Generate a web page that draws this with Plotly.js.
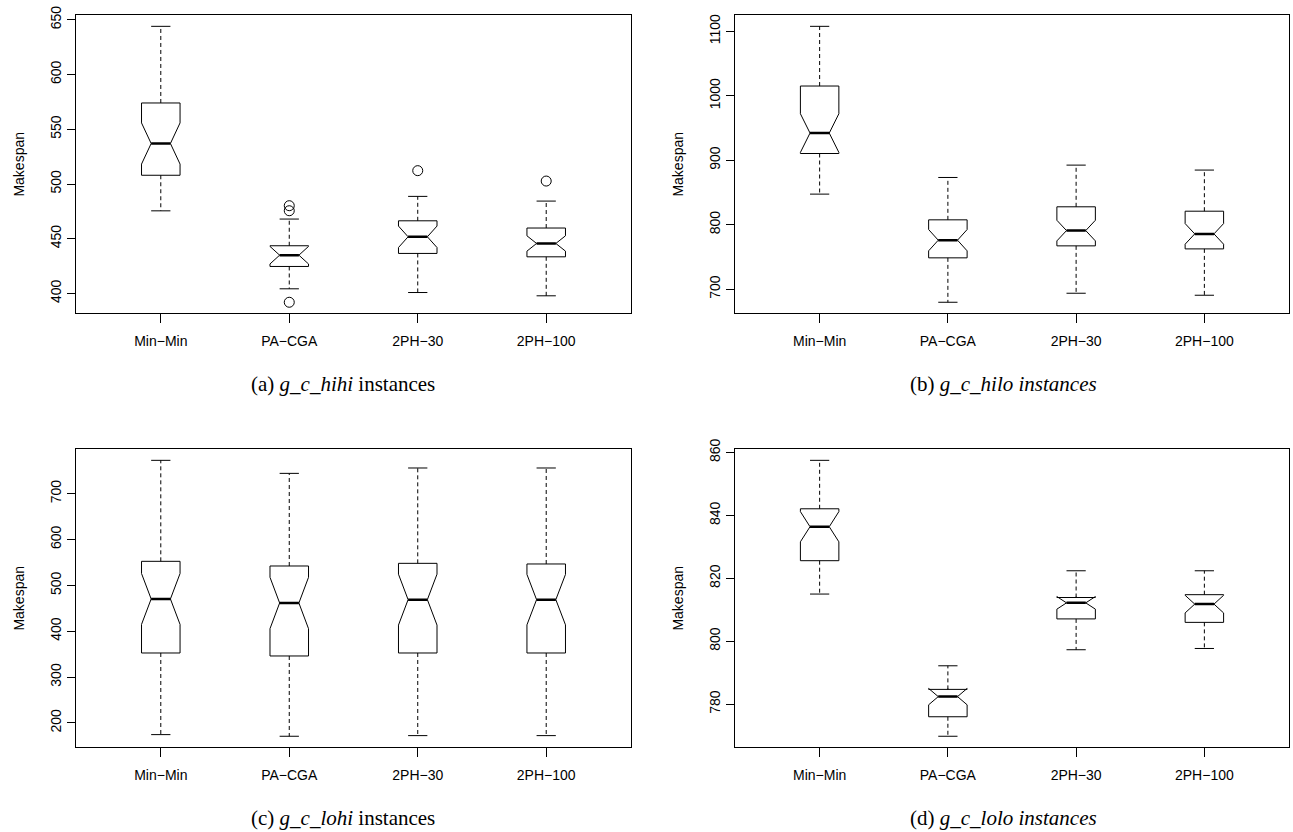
<!DOCTYPE html>
<html>
<head>
<meta charset="utf-8">
<script src="https://cdn.plot.ly/plotly-3.0.1.min.js"></script>
<style>
  html, body { margin: 0; padding: 0; background: #fff; }
  #chart { width: 1293px; height: 832px; }
</style>
</head>
<body>
<div id="chart"></div>
<script>
// ---------- data ----------
const categories = ["Min−Min", "PA−CGA", "2PH−30", "2PH−100"];

// (a) g_c_hihi
const hihiLower  = [475.5, 404.3, 400.9, 397.9];
const hihiQ1     = [508.0, 424.7, 436.6, 433.5];
const hihiMedian = [537.0, 435.0, 451.8, 445.7];
const hihiQ3     = [574.0, 443.6, 466.4, 459.8];
const hihiUpper  = [644.0, 468.0, 488.7, 484.4];
const hihiNotch  = [18.8, 8.0, 9.8, 7.0];
const hihiOutCat = ["PA−CGA", "PA−CGA", "PA−CGA", "2PH−30", "2PH−100"];
const hihiOutVal = [392.0, 475.6, 480.2, 512.2, 502.7];

// (b) g_c_hilo
const hiloLower  = [847.5, 679.7, 693.7, 690.6];
const hiloQ1     = [910.5, 748.6, 767.2, 762.5];
const hiloMedian = [942.2, 776.0, 790.9, 785.8];
const hiloQ3     = [1015.2, 807.6, 827.8, 821.0];
const hiloUpper  = [1107.8, 873.3, 892.5, 884.8];
const hiloNotch  = [30.0, 16.5, 16.0, 16.0];

// (c) g_c_lohi
const lohiLower  = [174.6, 171.0, 172.4, 172.4];
const lohiQ1     = [352.6, 346.1, 352.6, 352.6];
const lohiMedian = [470.4, 461.6, 468.9, 468.9];
const lohiQ3     = [552.5, 542.3, 548.1, 546.7];
const lohiUpper  = [772.7, 744.3, 756.0, 756.0];
const lohiNotch  = [55.5, 56.0, 55.5, 55.0];

// (d) g_c_lolo
const loloLower  = [815.0, 769.8, 797.3, 797.7];
const loloQ1     = [825.6, 776.0, 807.1, 806.0];
const loloMedian = [836.4, 782.4, 812.2, 811.8];
const loloQ3     = [842.1, 784.7, 813.9, 814.8];
const loloUpper  = [857.5, 792.2, 822.4, 822.4];
const loloNotch  = [4.8, 2.6, 2.0, 2.8];

const captions = [
  "(a) <i>g_c_hihi</i> instances",
  "(b) <i>g_c_hilo instances</i>",
  "(c) <i>g_c_lohi</i> instances",
  "(d) <i>g_c_lolo instances</i>"
];
const yTitle = "Makespan";

// ---------- build ----------
const panels = [
  {lo: hihiLower, q1: hihiQ1, med: hihiMedian, q3: hihiQ3, hi: hihiUpper, notch: hihiNotch, outCat: hihiOutCat, outVal: hihiOutVal, dtick: 50},
  {lo: hiloLower, q1: hiloQ1, med: hiloMedian, q3: hiloQ3, hi: hiloUpper, notch: hiloNotch, outCat: [], outVal: [], dtick: 100},
  {lo: lohiLower, q1: lohiQ1, med: lohiMedian, q3: lohiQ3, hi: lohiUpper, notch: lohiNotch, outCat: [], outVal: [], dtick: 100},
  {lo: loloLower, q1: loloQ1, med: loloMedian, q3: loloQ3, hi: loloUpper, notch: loloNotch, outCat: [], outVal: [], dtick: 20}
];

const BOXW = 0.3;
const pos = categories.map((c, i) => i + 1);
const W = 1293, H = 832;
const xDomains = [[76 / W, 631 / W], [735 / W, 1289 / W], [76 / W, 631 / W], [735 / W, 1289 / W]];
const topY = [(H - 313.3) / H, (H - 15.3) / H];
const botY = [(H - 747.3) / H, (H - 449.3) / H];
const yDomains = [topY, topY, botY, botY];

const traces = [];
const layout = {
  width: W, height: H,
  margin: {l: 0, r: 0, t: 0, b: 0},
  paper_bgcolor: "#ffffff",
  plot_bgcolor: "#ffffff",
  showlegend: false,
  font: {family: "Liberation Sans, Arial, sans-serif", size: 14, color: "#000"},
  annotations: []
};

panels.forEach((p, k) => {
  const sfx = k === 0 ? "" : String(k + 1);
  const xa = "x" + sfx, ya = "y" + sfx;

  // box with notch (no whiskers; those are drawn dashed below)
  traces.push({
    type: "box", xaxis: xa, yaxis: ya,
    x: pos, q1: p.q1, median: p.med, q3: p.q3,
    lowerfence: p.q1, upperfence: p.q3,
    notchspan: p.notch, notched: true, notchwidth: 0.25,
    width: BOXW, whiskerwidth: 0,
    boxpoints: false,
    fillcolor: "rgba(255,255,255,0)",
    line: {color: "#000", width: 1},
    hoverinfo: "skip"
  });

  // dashed whiskers
  const wx = [], wy = [];
  pos.forEach((x, i) => {
    wx.push(x, x, null, x, x, null);
    wy.push(p.q3[i], p.hi[i], null, p.q1[i], p.lo[i], null);
  });
  traces.push({
    type: "scatter", mode: "lines", xaxis: xa, yaxis: ya,
    x: wx, y: wy, line: {color: "#000", width: 1, dash: "4px,3px"},
    hoverinfo: "skip"
  });

  // staples
  const sx = [], sy = [];
  pos.forEach((x, i) => {
    sx.push(x - BOXW / 4, x + BOXW / 4, null, x - BOXW / 4, x + BOXW / 4, null);
    sy.push(p.hi[i], p.hi[i], null, p.lo[i], p.lo[i], null);
  });
  traces.push({
    type: "scatter", mode: "lines", xaxis: xa, yaxis: ya,
    x: sx, y: sy, line: {color: "#000", width: 1},
    hoverinfo: "skip"
  });

  // thick medians
  const mx = [], my = [];
  pos.forEach((x, i) => {
    mx.push(x - BOXW / 4, x + BOXW / 4, null);
    my.push(p.med[i], p.med[i], null);
  });
  traces.push({
    type: "scatter", mode: "lines", xaxis: xa, yaxis: ya,
    x: mx, y: my, line: {color: "#000", width: 2.5},
    hoverinfo: "skip"
  });

  // outliers
  if (p.outVal.length) {
    traces.push({
      type: "scatter", mode: "markers", xaxis: xa, yaxis: ya,
      x: p.outCat.map(c => categories.indexOf(c) + 1), y: p.outVal,
      marker: {symbol: "circle-open", size: 10, color: "#000", line: {width: 1, color: "#000"}},
      hoverinfo: "skip"
    });
  }

  // y range like R (4% padding)
  const all = p.lo.concat(p.hi, p.outVal);
  const mn = Math.min(...all), mxv = Math.max(...all);
  const pad = (mxv - mn) * 0.04;

  layout["xaxis" + sfx] = {
    domain: xDomains[k], anchor: ya,
    range: [0.34, 4.66],
    tickmode: "array", tickvals: pos, ticktext: categories,
    showgrid: false, zeroline: false,
    showline: true, mirror: true, linecolor: "#000", linewidth: 1,
    ticks: "outside", ticklen: 9, tickwidth: 1, tickcolor: "#000",
    tickfont: {size: 14, family: "Liberation Sans, Arial, sans-serif"},
    ticklabelstandoff: 6,
    fixedrange: true
  };
  layout["yaxis" + sfx] = {
    domain: yDomains[k], anchor: xa,
    range: [mn - pad, mxv + pad],
    dtick: p.dtick,
    showgrid: false, zeroline: false,
    showline: true, mirror: true, linecolor: "#000", linewidth: 1,
    ticks: "outside", ticklen: 8, tickwidth: 1, tickcolor: "#000",
    tickangle: -90,
    tickfont: {size: 14, family: "Liberation Sans, Arial, sans-serif"},
    title: {text: yTitle, font: {size: 14, family: "Liberation Sans, Arial, sans-serif"}, standoff: 20},
    fixedrange: true
  };

  // caption
  const capX = (k % 2 === 0) ? 343 / W : 1004 / W;
  const capY = (k < 2) ? (H - 384) / H : (H - 818) / H;
  layout.annotations.push({
    xref: "paper", yref: "paper", x: capX, y: capY,
    xanchor: "center", yanchor: "middle", showarrow: false,
    text: captions[k],
    font: {family: "Liberation Serif, Times New Roman, serif", size: 21, color: "#000"}
  });
});

Plotly.newPlot("chart", traces, layout, {displayModeBar: false, staticPlot: true});
</script>
</body>
</html>
